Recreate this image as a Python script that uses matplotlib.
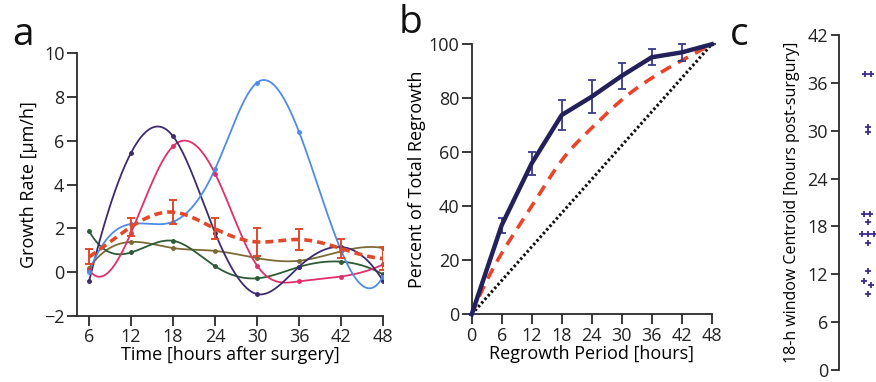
import numpy as np
import matplotlib
matplotlib.use("Agg")
import matplotlib.pyplot as plt

plt.rcParams['font.family'] = ['Open Sans', 'DejaVu Sans']

# ---------------- data ----------------
hours_a = [6, 12, 18, 24, 30, 36, 42, 48]
purple = [-0.4, 5.45, 6.2, 1.8, -1.0, 0.25, 1.15, -0.4]
blue = [0.0, 2.2, 2.3, 4.7, 8.65, 6.4, 1.0, -0.2]
pink = [0.1, 1.8, 5.75, 4.5, 0.3, -0.42, -0.2, 0.35]
dkgreen = [1.87, 0.9, 1.43, 0.27, -0.28, 0.24, 0.48, -0.1]
olive = [0.2, 1.38, 1.1, 0.97, 0.64, 0.52, 0.95, 1.1]
mean_a = [0.7, 2.07, 2.74, 1.98, 1.38, 1.49, 1.08, 0.62]
err_a = [0.35, 0.4, 0.55, 0.47, 0.62, 0.5, 0.43, 0.53]

hours_b = [0, 6, 12, 18, 24, 30, 36, 42, 48]
cum_b = [0, 33, 55.9, 73.8, 80.6, 88.3, 95.2, 97, 100]
cum_err_b = [0, 2.8, 4.3, 5.4, 6.2, 4.9, 2.9, 3.1, 0]
model_b = [0, 22.6, 40, 57, 69, 79.4, 87.5, 94, 100]
linear_b_x = [0, 48]
linear_b_y = [0, 100]

centroid_y = [37.1, 37.1, 30.5, 29.9, 19.55, 19.55, 18.5, 17.1, 17.1, 17.1, 15.9,
              12.4, 11.1, 10.6, 9.5]
centroid_x = [-0.1, 0.12, 0, 0, -0.14, 0.07, 0, -0.2, 0, 0.2, 0,
              0, -0.14, 0.1, 0]


def notaknot_spline(x, y, n=400):
    x = np.asarray(x, float)
    y = np.asarray(y, float)
    k = len(x)
    h = np.diff(x)
    A = np.zeros((k, k))
    r = np.zeros(k)
    # not-a-knot end conditions (continuous third derivative)
    A[0, 0] = h[1]
    A[0, 1] = -(h[0] + h[1])
    A[0, 2] = h[0]
    A[-1, -3] = h[-1]
    A[-1, -2] = -(h[-2] + h[-1])
    A[-1, -1] = h[-2]
    for i in range(1, k - 1):
        A[i, i - 1] = h[i - 1]
        A[i, i] = 2 * (h[i - 1] + h[i])
        A[i, i + 1] = h[i]
        r[i] = 6 * ((y[i + 1] - y[i]) / h[i] - (y[i] - y[i - 1]) / h[i - 1])
    M = np.linalg.solve(A, r)
    xs = np.linspace(x[0], x[-1], n)
    idx = np.clip(np.searchsorted(x, xs) - 1, 0, k - 2)
    x0, x1 = x[idx], x[idx + 1]
    hh = x1 - x0
    a = (x1 - xs) / hh
    b = (xs - x0) / hh
    ys = (a * y[idx] + b * y[idx + 1]
          + ((a ** 3 - a) * M[idx] + (b ** 3 - b) * M[idx + 1]) * hh ** 2 / 6)
    return xs, ys


W, H = 876, 382
fig = plt.figure(figsize=(W / 100, H / 100), dpi=100)

spine_col = '#2a2a2a'
tick_fs = 13
lab_fs = 13


def style(ax, left_only=False):
    for s in ['top', 'right']:
        ax.spines[s].set_visible(False)
    for s in ['left', 'bottom']:
        ax.spines[s].set_color(spine_col)
        ax.spines[s].set_linewidth(1.3)
    ax.tick_params(direction='out', length=7, width=1.3, color=spine_col,
                   labelsize=tick_fs, labelcolor='#222222', pad=2)
    if left_only:
        ax.spines['bottom'].set_visible(False)
        ax.set_xticks([])


# ---------------- panel a ----------------
axa = fig.add_axes([77 / W, 1 - 316 / H, 306 / W, 263 / H])
style(axa)
series = [(olive, '#7b6b35'), (dkgreen, '#2e5a35'), (pink, '#e0306a'),
          (purple, '#3d2b6e'), (blue, '#4f8be8')]
for vals, col in series:
    xs, ys = notaknot_spline(hours_a, vals)
    axa.plot(xs, ys, color=col, lw=1.3, zorder=2)
    axa.plot(hours_a, vals, 'o', color=col, ms=2.5, zorder=3)
xs, ys = notaknot_spline(hours_a, mean_a)
axa.plot(xs, ys, color='#e04a2a', lw=2.6, ls=(0, (2.2, 1.4)), zorder=4)
axa.errorbar(hours_a, mean_a, yerr=err_a, fmt='none', ecolor='#e04a2a',
             elinewidth=1.4, capsize=3, capthick=1.4, zorder=4)
axa.set_xlim(4.27, 48)
axa.set_ylim(-2, 10)
axa.set_xticks(hours_a)
axa.set_yticks([-2, 0, 2, 4, 6, 8, 10])
axa.set_xlabel('Time [hours after surgery]', fontsize=lab_fs, labelpad=0)
axa.set_ylabel('Growth Rate [μm/h]', fontsize=lab_fs, labelpad=4)

# ---------------- panel b ----------------
axb = fig.add_axes([471.7 / W, 1 - 314.3 / H, 240 / W, 270 / H])
style(axb)
axb.plot(linear_b_x, linear_b_y, color='#111111', lw=2.2, ls=(0, (0.8, 0.8)),
         zorder=2, clip_on=False)
xs, ys = notaknot_spline(hours_b, model_b)
axb.plot(xs, ys, color='#e8452a', lw=2.6, ls=(0, (3.2, 2.2)), zorder=3,
         clip_on=False)
axb.errorbar(hours_b, cum_b, yerr=cum_err_b, color='#23205a', lw=3.2,
             ecolor='#3a3a8a', elinewidth=1.3, capsize=3, capthick=1.3,
             zorder=4, clip_on=False)
axb.set_xlim(0, 48)
axb.set_ylim(0, 100)
axb.set_xticks(hours_b)
axb.set_yticks([0, 20, 40, 60, 80, 100])
axb.set_xlabel('Regrowth Period [hours]', fontsize=lab_fs, labelpad=0)
axb.set_ylabel('Percent of Total Regrowth', fontsize=lab_fs, labelpad=2)

# ---------------- panel c ----------------
axc = fig.add_axes([839 / W, 1 - 370 / H, 37 / W, 335 / H])
style(axc, left_only=True)
axc.tick_params(length=6)
axc.plot(centroid_x, centroid_y, '+', color='#3a2d8c', ms=5, mew=1.3,
         clip_on=False)
axc.set_xlim(-1.0, 0.28)
axc.set_ylim(0, 42)
axc.set_yticks([0, 6, 12, 18, 24, 30, 36, 42])
axc.set_ylabel('18-h window Centroid [hours post-surgury]', fontsize=11.5,
               labelpad=5)

# panel letters
fig.text(12 / W, 1 - 45 / H, 'a', fontsize=28, va='baseline', color='#111111')
fig.text(399 / W, 1 - 33 / H, 'b', fontsize=28, va='baseline', color='#111111')
fig.text(730 / W, 1 - 45 / H, 'c', fontsize=28, va='baseline', color='#111111')

fig.savefig('out.png', dpi=100)
